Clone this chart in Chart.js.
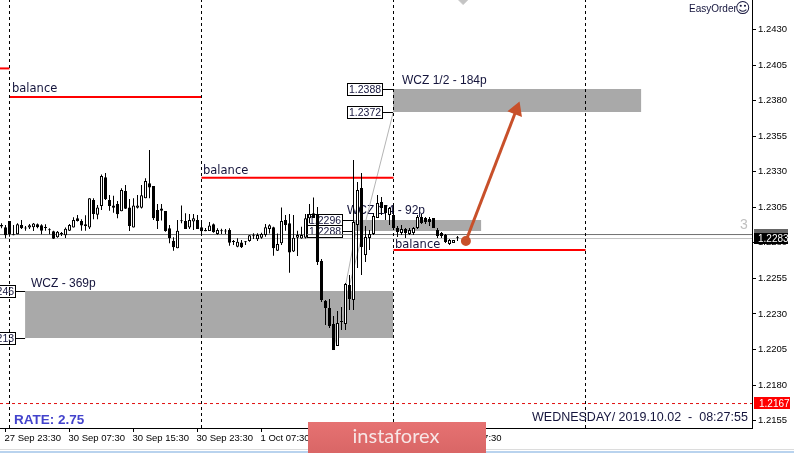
<!DOCTYPE html>
<html>
<head>
<meta charset="utf-8">
<title>EURUSD M30</title>
<script src="https://cdn.jsdelivr.net/npm/chart.js@4"></script>
<style>
    html, body { margin: 0; padding: 0; background: #fff; }
    canvas { display: block; }
</style>
</head>
<body>
<canvas id="priceChart" width="794" height="453"></canvas>
<script>
const opens = [1.22925,1.22909,1.22953,1.22853,1.22860,1.22925,1.22904,1.22907,1.22909,1.22930,1.22923,1.22907,1.22890,1.22881,1.22839,1.22864,1.22853,1.22885,1.22907,1.22972,1.22953,1.22930,1.22907,1.23101,1.22998,1.23059,1.23260,1.23101,1.23063,1.23073,1.23021,1.23164,1.23049,1.22907,1.23047,1.23047,1.23113,1.23218,1.23199,1.23031,1.23042,1.23024,1.22902,1.22815,1.22761,1.22953,1.22953,1.22907,1.22949,1.22960,1.22909,1.22890,1.22883,1.22930,1.22862,1.22883,1.22881,1.22890,1.22808,1.22773,1.22803,1.22806,1.22813,1.22848,1.22825,1.22836,1.22855,1.22897,1.22909,1.22745,1.22796,1.22960,1.22937,1.22738,1.22836,1.22831,1.22836,1.22972,1.23007,1.22996,1.22672,1.22393,1.22342,1.22229,1.22075,1.22250,1.22229,1.22503,1.22398,1.22925,1.23185,1.22714,1.22834,1.22862,1.22974,1.23087,1.23066,1.22996,1.22996,1.22904,1.22869,1.22897,1.22862,1.22869,1.22904,1.22981,1.22974,1.22967,1.22974,1.22890,1.22869,1.22855,1.22792,1.22799,1.22834];
const highs = [1.22937,1.22925,1.22953,1.22925,1.22937,1.22960,1.22918,1.22932,1.22939,1.22935,1.22930,1.22930,1.22902,1.22885,1.22883,1.22876,1.22907,1.22932,1.22979,1.22996,1.22965,1.22993,1.23113,1.23113,1.23066,1.23281,1.23291,1.23136,1.23131,1.23094,1.23183,1.23206,1.23108,1.23113,1.23136,1.23206,1.23253,1.23452,1.23199,1.23073,1.23073,1.23024,1.22925,1.22839,1.22960,1.23063,1.23007,1.23003,1.23003,1.22996,1.22960,1.22904,1.22946,1.22935,1.22902,1.22899,1.22897,1.22902,1.22820,1.22832,1.22820,1.22813,1.22855,1.22867,1.22867,1.22871,1.22932,1.22930,1.22913,1.22866,1.23049,1.22995,1.23002,1.22995,1.22885,1.22913,1.23002,1.23073,1.23119,1.23052,1.22686,1.22398,1.22405,1.22286,1.22321,1.22349,1.22518,1.22574,1.23382,1.23228,1.23291,1.22918,1.22890,1.23010,1.23136,1.23122,1.23066,1.23052,1.23066,1.22918,1.22925,1.22904,1.22904,1.22911,1.22996,1.23003,1.22981,1.22981,1.22974,1.22904,1.22876,1.22862,1.22827,1.22820,1.22848];
const lows = [1.22902,1.22832,1.22843,1.22853,1.22860,1.22897,1.22885,1.22897,1.22883,1.22902,1.22860,1.22885,1.22860,1.22827,1.22836,1.22848,1.22834,1.22883,1.22907,1.22949,1.22885,1.22885,1.22897,1.22965,1.22965,1.23031,1.23101,1.23026,1.23012,1.22972,1.23021,1.23038,1.22883,1.22907,1.23042,1.23042,1.23113,1.23113,1.22960,1.22897,1.22956,1.22878,1.22796,1.22745,1.22761,1.22937,1.22897,1.22897,1.22890,1.22897,1.22855,1.22881,1.22883,1.22871,1.22857,1.22862,1.22862,1.22780,1.22785,1.22768,1.22764,1.22785,1.22808,1.22827,1.22813,1.22829,1.22843,1.22866,1.22709,1.22742,1.22784,1.22885,1.22590,1.22735,1.22707,1.22829,1.22831,1.22937,1.22974,1.22644,1.22384,1.22222,1.22201,1.22046,1.22075,1.22187,1.22187,1.22328,1.22328,1.22623,1.22574,1.22665,1.22749,1.22855,1.22974,1.22996,1.22960,1.22925,1.22890,1.22841,1.22855,1.22834,1.22855,1.22855,1.22897,1.22932,1.22932,1.22918,1.22904,1.22834,1.22834,1.22799,1.22785,1.22799,1.22813];
const closes = [1.22914,1.22853,1.22860,1.22857,1.22930,1.22902,1.22901,1.22923,1.22935,1.22909,1.22885,1.22904,1.22888,1.22829,1.22878,1.22862,1.22899,1.22925,1.22960,1.22953,1.22921,1.22918,1.23113,1.23003,1.23049,1.23270,1.23106,1.23059,1.23047,1.23000,1.23171,1.23040,1.22918,1.23063,1.23063,1.23134,1.23235,1.23188,1.22972,1.22953,1.23026,1.22883,1.22832,1.22768,1.22885,1.22951,1.22897,1.22960,1.22972,1.22897,1.22881,1.22881,1.22921,1.22874,1.22890,1.22881,1.22879,1.22801,1.22806,1.22808,1.22768,1.22804,1.22853,1.22846,1.22855,1.22862,1.22909,1.22923,1.22761,1.22791,1.22953,1.22925,1.22731,1.22836,1.22855,1.22855,1.22972,1.23002,1.22974,1.22665,1.22398,1.22342,1.22215,1.22046,1.22236,1.22243,1.22510,1.22405,1.22946,1.23171,1.22771,1.22841,1.22862,1.22989,1.23080,1.23045,1.23010,1.23045,1.22904,1.22876,1.22897,1.22869,1.22890,1.22904,1.22981,1.22939,1.22946,1.22946,1.22904,1.22848,1.22848,1.22806,1.22820,1.22820,1.22832];

const yTickValues = [1.2155,1.2180,1.2205,1.2230,1.2255,1.2280,1.2305,1.2330,1.2355,1.2380,1.2405,1.2430];
const xTickIndex = [1,17,33,49,65,81,97,113];
const xTickLabels = ['27 Sep 23:30','30 Sep 07:30','30 Sep 15:30','30 Sep 23:30','1 Oct 07:30','1 Oct 15:30','1 Oct 23:30','2 Oct 07:30'];

const separators = [2,50,98,146];
const balanceFrom = [-1,2,50,98];
const balanceTo = [2,50,98,146];
const balanceLevel = [1.24026,1.23825,1.23258,1.22749];

const zoneNames = ['WCZ - 369p','WCZ 1/4 - 92p','WCZ 1/2 - 184p'];
const zoneFrom = [5.9,87.9,97.9];
const zoneTo = [97.9,119.9,159.9];
const zoneTop = [1.2246,1.2296,1.2388];
const zoneBottom = [1.2213,1.2288,1.2372];

const trendFromX = [82.9,82.9];
const trendFromY = [1.22046,1.22046];
const trendToX = [97.9,88.6];
const trendToY = [1.23713,1.22876];

const arrowX = [116.1,128.7];
const arrowY = [1.22813,1.23734];

const bidPrice = 1.2283;
const askPrice = 1.22858;
const stopPrice = 1.2167;

const axisMinY = 1.21498;
const axisMaxY = 1.24507;
const axisMinX = -0.375;
const axisMaxX = 187.625;

const TEXT_COLOR = '#14143c';
const LABEL_FONT = '"Liberation Sans", Arial, sans-serif';

function segment(x0, y0, x1, y1, color, width, dash) {
    return {
        type: 'line',
        data: [{ x: x0, y: y0 }, { x: x1, y: y1 }],
        borderColor: color,
        borderWidth: width,
        borderDash: dash || [],
        pointRadius: 0,
        tension: 0,
        order: 5,
    };
}

function noPadding(scale) {
    scale.paddingLeft = 0;
    scale.paddingRight = 0;
    scale.paddingTop = 0;
    scale.paddingBottom = 0;
}

const candleIndex = opens.map((_, i) => i);

const datasets = [];

separators.forEach(x => {
    datasets.push(segment(x, axisMinY, x, axisMaxY, '#000', 1, [3, 3]));
});
datasets.push(segment(axisMinX, askPrice, axisMaxX, askPrice, '#707070', 1));
datasets.push(segment(axisMinX, bidPrice, axisMaxX, bidPrice, '#c0c0c0', 1));
datasets.push(segment(axisMinX, stopPrice, axisMaxX, stopPrice, '#e01010', 1, [3, 3]));
balanceLevel.forEach((level, i) => {
    datasets.push(segment(balanceFrom[i], level, balanceTo[i], level, '#ff0000', 2));
});
trendFromX.forEach((x, i) => {
    datasets.push(segment(x, trendFromY[i], trendToX[i], trendToY[i], '#b4b4b4', 1));
});

// фитили и тела свечей
datasets.push({
    type: 'bar',
    data: candleIndex.map(i => ({ x: i, y: [lows[i], highs[i]] })),
    backgroundColor: '#000',
    barThickness: 1,
    inflateAmount: 0,
    grouped: false,
    order: 3,
});
datasets.push({
    type: 'bar',
    data: candleIndex.map(i => ({ x: i, y: [Math.min(opens[i], closes[i]), Math.max(opens[i], closes[i])] })),
    backgroundColor: candleIndex.map(i => (closes[i] > opens[i] ? '#fff' : '#000')),
    borderColor: '#000',
    borderWidth: 1,
    borderSkipped: false,
    barThickness: 3,
    minBarLength: 1,
    inflateAmount: 0,
    grouped: false,
    order: 2,
});

// стрелка
datasets.push({
    type: 'line',
    data: arrowX.map((x, i) => ({ x, y: arrowY[i] })),
    borderColor: '#c8502a',
    backgroundColor: '#c8502a',
    borderWidth: 3,
    tension: 0,
    pointStyle: ['circle', 'triangle'],
    pointRadius: [3.5, 6],
    pointRotation: [0, 21],
    clip: false,
    order: 1,
});
// ромб сверху
datasets.push({
    type: 'line',
    data: [{ x: 115.4, y: axisMaxY }],
    showLine: false,
    pointStyle: 'rectRot',
    pointRadius: 4.5,
    backgroundColor: '#c4c4c4',
    borderColor: '#c4c4c4',
    clip: false,
    order: 1,
});

function priceBox(ctx, right, y, value) {
    ctx.fillStyle = '#fff';
    ctx.fillRect(right - 36, y - 6, 36, 12);
    ctx.strokeStyle = '#000';
    ctx.lineWidth = 1;
    ctx.strokeRect(right - 35.5, y - 5.5, 35, 12);
    ctx.fillStyle = TEXT_COLOR;
    ctx.font = '10.5px ' + LABEL_FONT;
    ctx.textAlign = 'center';
    ctx.textBaseline = 'middle';
    ctx.fillText(value.toFixed(4), right - 18, y + 1);
}

const zonePlugin = {
    id: 'zones',
    beforeDatasetsDraw(chart) {
        const { ctx, scales: { x, y } } = chart;
        ctx.save();
        zoneNames.forEach((name, i) => {
            const left = x.getPixelForValue(zoneFrom[i]);
            const right = x.getPixelForValue(zoneTo[i]);
            const top = Math.round(y.getPixelForValue(zoneTop[i]));
            const bottom = Math.round(y.getPixelForValue(zoneBottom[i]));
            ctx.fillStyle = '#a9a9a9';
            ctx.fillRect(left, top, right - left, bottom - top);

            const boxRight = [16, 343, 383][i];
            ctx.strokeStyle = '#000';
            ctx.lineWidth = 1;
            ctx.beginPath();
            ctx.moveTo(boxRight, top + 0.5);
            ctx.lineTo(left, top + 0.5);
            ctx.moveTo(boxRight, bottom + 0.5);
            ctx.lineTo(left, bottom + 0.5);
            ctx.stroke();
            priceBox(ctx, boxRight, top, zoneTop[i]);
            priceBox(ctx, boxRight, bottom, zoneBottom[i]);
        });
        ctx.fillStyle = TEXT_COLOR;
        ctx.font = '12px ' + LABEL_FONT;
        ctx.textAlign = 'left';
        ctx.textBaseline = 'middle';
        ctx.fillText(zoneNames[0], 31, 284);
        ctx.fillText(zoneNames[1], 347, 211);
        ctx.fillText(zoneNames[2], 402, 81);
        ctx.font = '11.5px "DejaVu Sans", sans-serif';
        ctx.fillText('balance', 12, 89);
        ctx.fillText('balance', 203, 171);
        ctx.fillText('balance', 395, 245);
        ctx.restore();
    },
    afterDraw(chart) {
        const { ctx, scales: { y } } = chart;
        ctx.save();
        ctx.textBaseline = 'middle';
        ctx.textAlign = 'left';

        // цены справа
        ctx.fillStyle = '#666';
        ctx.fillRect(754, 229, 34, 8);
        ctx.fillStyle = '#000';
        ctx.fillRect(754, 233, 34, 11);
        ctx.fillStyle = '#fff';
        ctx.font = '10px ' + LABEL_FONT;
        ctx.fillText(bidPrice.toFixed(4), 758, y.getPixelForValue(bidPrice) + 0.5);
        ctx.fillStyle = '#ff0000';
        ctx.fillRect(754, 397, 36, 12);
        ctx.fillStyle = '#fff';
        ctx.fillText(stopPrice.toFixed(4), 759, y.getPixelForValue(stopPrice) + 0.5);

        ctx.fillStyle = '#c0c0c0';
        ctx.font = '14px ' + LABEL_FONT;
        ctx.fillText('3', 740, 225);

        ctx.fillStyle = TEXT_COLOR;
        ctx.font = '10px ' + LABEL_FONT;
        ctx.fillText('EasyOrder', 689, 9);
        ctx.font = '15px "DejaVu Sans", sans-serif';
        ctx.fillText('\u263A', 735, 9);

        ctx.font = '12.5px ' + LABEL_FONT;
        ctx.fillText('WEDNESDAY/ 2019.10.02  -  08:27:55', 532, 418);
        ctx.fillStyle = '#4343cc';
        ctx.font = 'bold 13.5px ' + LABEL_FONT;
        ctx.fillText('RATE: 2.75', 14, 420);

        // нижняя кромка окна
        ctx.fillStyle = '#dcdcdc';
        ctx.fillRect(0, 449, 794, 1);
        ctx.fillStyle = '#b9d3ee';
        ctx.fillRect(0, 451, 794, 2);

        // плашка
        const grad = ctx.createLinearGradient(0, 422, 0, 453);
        grad.addColorStop(0, '#e67272');
        grad.addColorStop(1, '#d96666');
        ctx.fillStyle = grad;
        ctx.fillRect(308, 422, 178, 31);
        ctx.fillStyle = '#f7e6e6';
        ctx.font = '20px Lato, sans-serif';
        ctx.textAlign = 'center';
        ctx.fillText('instaforex', 396, 437);
        ctx.restore();
    },
};

const ctx = document.getElementById('priceChart').getContext('2d');

new Chart(ctx, {
    data: { datasets },
    plugins: [zonePlugin],
    options: {
        responsive: false,
        animation: false,
        parsing: { xAxisKey: 'x', yAxisKey: 'y' },
        layout: { padding: 0, autoPadding: false },
        plugins: {
            legend: { display: false },
            tooltip: { enabled: false },
        },
        scales: {
            x: {
                type: 'linear',
                offset: false,
                min: axisMinX,
                max: axisMaxX,
                afterBuildTicks(scale) {
                    scale.ticks = xTickIndex.map(value => ({ value }));
                },
                afterFit(scale) {
                    scale.height = 25;
                    noPadding(scale);
                },
                border: { display: true, color: '#000', width: 1 },
                grid: { offset: false, drawOnChartArea: false, drawTicks: true, tickLength: 4, tickColor: '#000' },
                ticks: {
                    autoSkip: false,
                    maxRotation: 0,
                    align: 'start',
                    labelOffset: -1,
                    padding: 1,
                    color: '#000',
                    font: { family: 'Liberation Sans', size: 9.5 },
                    callback: value => xTickLabels[xTickIndex.indexOf(value)],
                },
            },
            y: {
                position: 'right',
                min: axisMinY,
                max: axisMaxY,
                afterBuildTicks(scale) {
                    scale.ticks = yTickValues.map(value => ({ value }));
                },
                afterFit(scale) {
                    scale.width = 42;
                    noPadding(scale);
                },
                border: { display: true, color: '#000', width: 1 },
                grid: { drawOnChartArea: false, drawTicks: true, tickLength: 4, tickColor: '#000' },
                ticks: {
                    padding: 2,
                    color: '#000',
                    font: { family: 'Liberation Sans', size: 9.5 },
                    callback: value => value.toFixed(4),
                },
            },
        },
    },
});
</script>
</body>
</html>
